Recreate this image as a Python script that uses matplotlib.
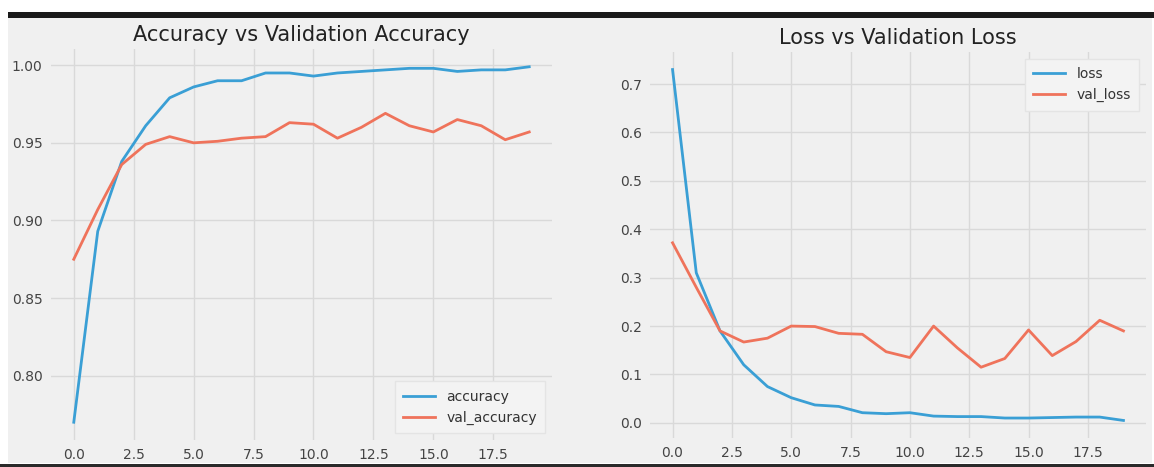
import numpy as np
import matplotlib.pyplot as plt
from matplotlib.patches import Rectangle

epochs = list(range(20))

accuracy = [0.770, 0.893, 0.938, 0.961, 0.979, 0.986, 0.990, 0.990, 0.995, 0.995,
            0.993, 0.995, 0.996, 0.997, 0.998, 0.998, 0.996, 0.997, 0.997, 0.999]
val_accuracy = [0.875, 0.907, 0.936, 0.949, 0.954, 0.950, 0.951, 0.953, 0.954, 0.963,
                0.962, 0.953, 0.960, 0.969, 0.961, 0.957, 0.965, 0.961, 0.952, 0.957]

loss = [0.73, 0.31, 0.19, 0.12, 0.075, 0.052, 0.037, 0.034, 0.021, 0.019,
        0.021, 0.014, 0.013, 0.013, 0.010, 0.010, 0.011, 0.012, 0.012, 0.005]
val_loss = [0.372, 0.28, 0.19, 0.167, 0.175, 0.200, 0.199, 0.185, 0.183, 0.147,
            0.135, 0.200, 0.155, 0.115, 0.133, 0.192, 0.139, 0.168, 0.212, 0.190]

blue = "#3a9fd5"
red = "#ef735b"
bg = "#f0f0f0"

plt.rcParams["font.family"] = ["DejaVu Sans"]

fig = plt.figure(figsize=(11.54, 4.67), dpi=100, facecolor="white")

# screenshot frame: grey panel, black bar on top, dark line at the bottom
W, H = 1154, 467
fig.patches.append(Rectangle((8 / W, 4 / H), (1152 - 8) / W, (449 - 4) / H,
                             transform=fig.transFigure, facecolor=bg, edgecolor="none", zorder=-2))
fig.patches.append(Rectangle((8 / W, (467 - 18) / H), (W - 8) / W, 6 / H,
                             transform=fig.transFigure, facecolor="#1a1a1a", edgecolor="none", zorder=1))
fig.patches.append(Rectangle((0, 0), 1, 3 / H,
                             transform=fig.transFigure, facecolor="#2a2a2a", edgecolor="none", zorder=1))

ax1 = fig.add_axes([51 / W, 27 / H, (552 - 51) / W, (440 - 49) / H])
ax2 = fig.add_axes([650 / W, 29 / H, (1146 - 650) / W, (438 - 52) / H])


def style(ax):
    ax.set_facecolor(bg)
    for s in ax.spines.values():
        s.set_visible(False)
    ax.grid(True, color="#d9d9d9", linewidth=1)
    ax.set_axisbelow(True)
    ax.tick_params(length=0, labelsize=10, colors="#444444", pad=6)
    ax.set_xticks(np.arange(0, 20, 2.5))


ax1.plot(epochs, accuracy, color=blue, lw=2, label="accuracy")
ax1.plot(epochs, val_accuracy, color=red, lw=2, label="val_accuracy")
style(ax1)
ax1.set_yticks([0.80, 0.85, 0.90, 0.95, 1.00])
ax1.set_title("Accuracy vs Validation Accuracy", fontsize=15, color="#222222", pad=6)
leg = ax1.legend(loc="lower right", fontsize=10, facecolor="#f3f3f3", edgecolor="#e4e4e4",
                 framealpha=1, fancybox=False, borderpad=0.6, handlelength=2.3)
for t in leg.get_texts():
    t.set_color("#333333")

ax2.plot(epochs, loss, color=blue, lw=2, label="loss")
ax2.plot(epochs, val_loss, color=red, lw=2, label="val_loss")
style(ax2)
ax2.set_yticks([0.0, 0.1, 0.2, 0.3, 0.4, 0.5, 0.6, 0.7])
ax2.set_title("Loss vs Validation Loss", fontsize=15, color="#222222", pad=6)
leg = ax2.legend(loc="upper right", fontsize=10, facecolor="#f3f3f3", edgecolor="#e4e4e4",
                 framealpha=1, fancybox=False, borderpad=0.6, handlelength=2.3)
for t in leg.get_texts():
    t.set_color("#333333")

fig.savefig("out.png", dpi=100, facecolor="white")
